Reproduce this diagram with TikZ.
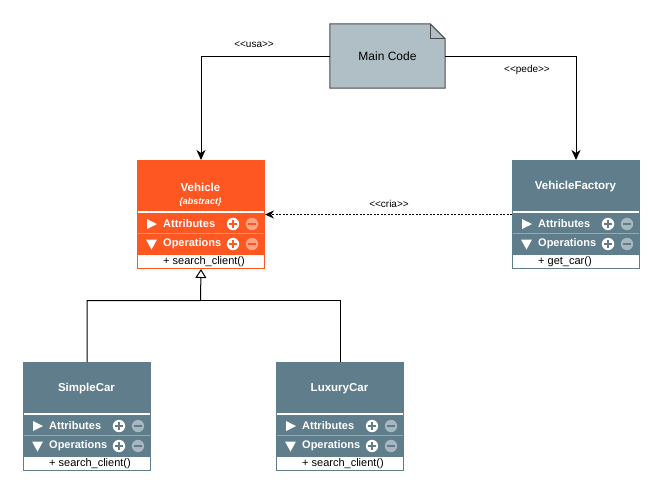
\documentclass[tikz,border=0pt]{standalone}
\usepackage{fontspec}
\setmainfont{Liberation Sans}
\usetikzlibrary{arrows.meta}
\definecolor{orng}{HTML}{FF5722}
\definecolor{bgrey}{HTML}{607D8B}
\definecolor{notefill}{HTML}{B0BEC5}
\definecolor{notedraw}{HTML}{4A4A4A}
\newcommand\stereo[1]{<\kern0pt<\kern0pt#1\kern0pt>\kern0pt>}
\tikzset{
  clsbox/.style={draw=#1, fill=#1, line width=1pt, minimum width=127pt, minimum height=108pt, anchor=north west, inner sep=0pt},
  ttl/.style={text=white, font=\fontsize{11.5}{13}\selectfont\bfseries, inner sep=0pt},
  subttl/.style={text=white, font=\fontsize{9}{10}\selectfont\bfseries\itshape, inner sep=0pt},
  rowtxt/.style={text=white, font=\fontsize{11}{13}\selectfont\bfseries, anchor=west, inner sep=0pt},
  optxt/.style={text=black, font=\fontsize{11}{13}\selectfont, anchor=west, inner sep=0pt},
  lbl/.style={font=\fontsize{10}{12}\selectfont, inner sep=0pt},
  conn/.style={line width=1pt, draw=black},
}
\newcommand\umlclass[7]{%
  \node[clsbox=#4] (#1) at (#2,#3) {};
  \begin{scope}[shift={(#2,#3)}]
    \node[ttl] (#1-t) at (63.5,27) {#5};
    \node[subttl] (#1-s) at (63.5,42) {#6};
    \draw[white, line width=2pt] (0.5,52) -- (126.5,52);
    \draw[white, opacity=0.35, line width=0.8pt] (0.5,73.5) -- (126.5,73.5);
    \fill[white] (10,59) -- (20,64) -- (10,69) -- cycle;
    \fill[white] (9,79.5) -- (20,79.5) -- (14.5,89.5) -- cycle;
    \node[rowtxt] (#1-a) at (26,64) {Attributes};
    \node[rowtxt] (#1-o) at (26,84) {Operations};
    \foreach \yy in {64,84}{
      \fill[white] (96,\yy) circle (6.2pt);
      \draw[#4, line width=1.8pt] (92.3,\yy) -- (99.7,\yy) (96,\yy-3.7) -- (96,\yy+3.7);
      \fill[white, opacity=0.45] (115,\yy) circle (6.2pt);
      \draw[#4, line width=1.8pt] (111.3,\yy) -- (118.7,\yy);
    }
    \draw[#4, fill=white, line width=1pt] (0,94) rectangle (127,108);
    \node[optxt] (#1-op) at (26,101.5) {#7};
  \end{scope}
}
\begin{document}
\begin{tikzpicture}[x=1pt, y=-1pt]
\useasboundingbox (0,0) rectangle (664,496);
% note
\node[minimum width=115pt, minimum height=64pt, inner sep=0pt] (main) at (387.5,56) {};
\draw[notedraw, fill=notefill, line width=1pt] (main.north west) -- ([xshift=-15pt]main.north east) -- ([yshift=-15pt]main.north east) -- (main.south east) -- (main.south west) -- cycle;
\draw[notedraw, line width=1pt] ([xshift=-15pt]main.north east) -- ([xshift=-15pt,yshift=-15pt]main.north east) -- ([yshift=-15pt]main.north east);
\node[font=\fontsize{12}{14}\selectfont, inner sep=0pt] (maintxt) at (main.center) {Main Code};
% classes
\umlclass{veh}{137}{160}{orng}{Vehicle}{\{abstract\}}{+ search\_client()}
\umlclass{fac}{512}{160}{bgrey}{VehicleFactory}{}{+ get\_car()}
\umlclass{sc}{23}{362}{bgrey}{SimpleCar}{}{+ search\_client()}
\umlclass{lc}{276}{362}{bgrey}{LuxuryCar}{}{+ search\_client()}
% connectors
\draw[conn, -{Stealth[length=10pt,width=9pt,inset=3pt]}] (main.west) -| (veh.north);
\draw[conn, -{Stealth[length=10pt,width=9pt,inset=3pt]}] (main.east) -| (fac.north);
\node[lbl] (usa) at (254,45) {\stereo{usa}};
\node[lbl] (pede) at (527,70) {\stereo{pede}};
\draw[conn, line width=0.8pt, dash pattern=on 2pt off 1.5pt, -{Stealth[length=9pt,width=8pt,inset=3pt]}] (fac.west) -- (veh.east);
\node[lbl] (cria) at (389,204) {\stereo{cria}};
\coordinate (j) at (200.5,300.5);
\draw[conn, -{Triangle[open,length=9pt,width=11pt]}] (sc.north) |- (j) -- (veh.south);
\draw[conn] (lc.north) |- (j);
\end{tikzpicture}
\end{document}
